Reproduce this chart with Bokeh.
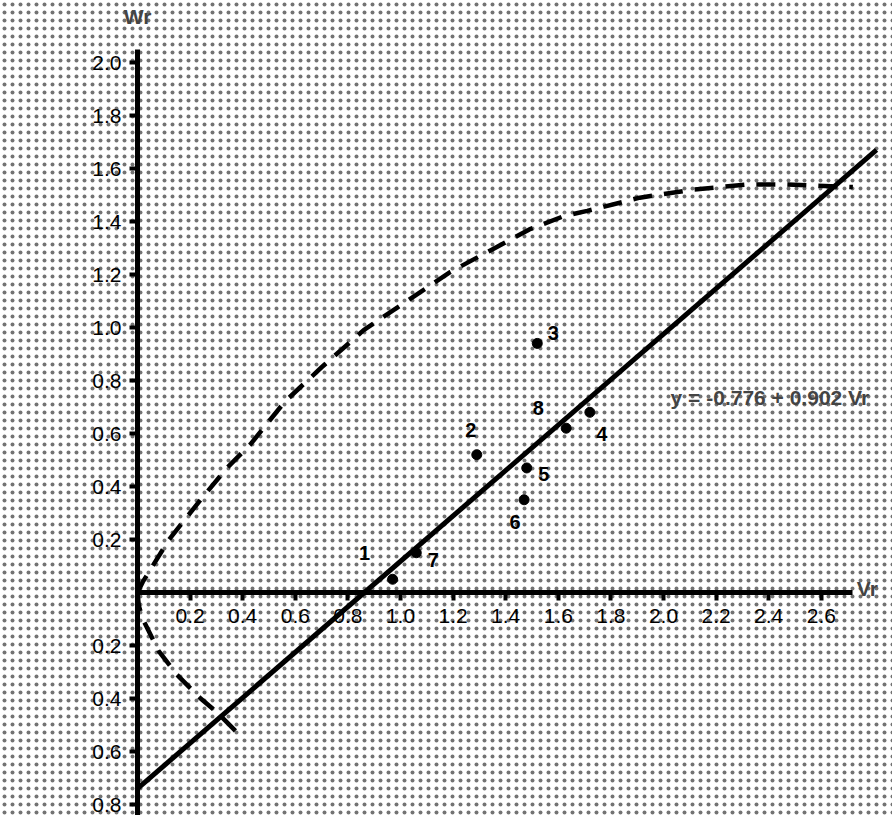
from bokeh.plotting import figure
from bokeh.models import (Range1d, LinearAxis, FixedTicker, CustomJSTickFormatter,
                          Label, BoxAnnotation, ColumnDataSource)
from bokeh.core.properties import value
from bokeh.embed import file_html
from bokeh.resources import INLINE

# ---------------- data ----------------
parent_ids = ["1", "2", "3", "4", "5", "6", "7", "8"]
vr_values = [0.97, 1.29, 1.52, 1.72, 1.48, 1.47, 1.06, 1.63]
wr_values = [0.05, 0.52, 0.94, 0.68, 0.47, 0.35, 0.15, 0.62]

# regression line as drawn (y = -0.776 + 0.902 Vr)
reg_vr = [0.0, 2.81]
reg_wr = [-0.74, 1.67]
equation_text = "y = -0.776 + 0.902 Vr"

# limiting parabola (dashed), upper branch
upper_vr = [0.0, 0.02, 0.12, 0.24, 0.34, 0.43, 0.56, 0.70, 0.86, 1.04, 1.19,
            1.34, 1.49, 1.62, 1.71, 1.91, 2.11, 2.32, 2.47, 2.72]
upper_wr = [0.0, 0.04, 0.20, 0.35, 0.47, 0.56, 0.72, 0.85, 0.99, 1.11, 1.21,
            1.29, 1.37, 1.42, 1.44, 1.49, 1.52, 1.54, 1.54, 1.53]
# lower branch
lower_vr = [0.0, 0.005, 0.02, 0.08, 0.15, 0.24, 0.30, 0.40]
lower_wr = [0.0, -0.05, -0.10, -0.22, -0.31, -0.40, -0.45, -0.55]

x_ticks = [0.2, 0.4, 0.6, 0.8, 1.0, 1.2, 1.4, 1.6, 1.8, 2.0, 2.2, 2.4, 2.6]
y_ticks = [-0.8, -0.6, -0.4, -0.2, 0.2, 0.4, 0.6, 0.8, 1.0, 1.2, 1.4, 1.6, 1.8, 2.0]

# label placement (screen px offsets from each point)
lab_dx = [-28, -6, 16, 12, 17, -9, 17, -28]
lab_dy = [-26, -25, -10, 22, 6, 22, 7, -20]

# ---------------- figure ----------------
W, H = 892, 815
p = figure(width=W, height=H, output_backend="svg", toolbar_location=None,
           x_range=Range1d(-0.5209, 2.8707), y_range=Range1d(-0.8415, 2.2340),
           x_axis_type=None, y_axis_type=None, min_border=0)
p.outline_line_color = None
p.grid.visible = False
p.background_fill_color = "#ffffff"
p.border_fill_color = "#ffffff"

# halftone-like background
bg = BoxAnnotation(fill_color="#ffffff", fill_alpha=1.0, line_color=None,
                   hatch_pattern=".", hatch_color="#000000", hatch_scale=8,
                   hatch_weight=1.5, hatch_alpha=0.55, level="underlay")
p.add_layout(bg)

formatter = CustomJSTickFormatter(code="return Math.abs(tick).toFixed(1)")
axis_kw = dict(axis_line_width=5, axis_line_color="black",
               major_tick_line_width=4, major_tick_line_color="black",
               major_tick_out=8, major_tick_in=0,
               minor_tick_line_color=None,
               major_label_text_font="Liberation Sans",
               major_label_text_font_size="21px",
               major_label_text_color="black",
               formatter=formatter)

xaxis = LinearAxis(fixed_location=0, bounds=(0, 2.72),
                   ticker=FixedTicker(ticks=x_ticks), major_label_standoff=8, **axis_kw)
yaxis = LinearAxis(fixed_location=0, bounds=(-0.85, 2.05),
                   ticker=FixedTicker(ticks=y_ticks), major_label_standoff=8, **axis_kw)
p.add_layout(xaxis, "below")
p.add_layout(yaxis, "left")

# dashed parabola
p.line(upper_vr, upper_wr, line_color="black", line_width=4.5, line_dash="19 12")
p.line(lower_vr, lower_wr, line_color="black", line_width=4.5, line_dash="19 12")

# regression line
p.line(reg_vr, reg_wr, line_color="black", line_width=5)

# points
src = ColumnDataSource(dict(x=vr_values, y=wr_values, t=parent_ids, dx=lab_dx, dy=lab_dy))
p.scatter("x", "y", source=src, size=10, color="black")
p.text("x", "y", text="t", source=src, x_offset="dx", y_offset="dy",
       text_align="center", text_baseline="middle",
       text_font=value("Liberation Sans"), text_font_style="bold",
       text_font_size="20px", text_color="black")

# axis names and equation
p.add_layout(Label(x=0, y=2.05, y_offset=33, text="Wr", text_align="center",
                   text_baseline="middle", text_font="Liberation Sans",
                   text_font_style="bold", text_font_size="21px"))
p.add_layout(Label(x=2.72, y=0, x_offset=4, y_offset=4, text="Vr", text_align="left",
                   text_baseline="middle", text_font="Liberation Sans",
                   text_font_style="bold", text_font_size="21px"))
p.add_layout(Label(x=2.027, y=0.736, text=equation_text, text_align="left",
                   text_baseline="middle", text_font="Liberation Sans",
                   text_font_style="bold", text_font_size="21px"))

open("out.html", "w").write(file_html(p, INLINE))
